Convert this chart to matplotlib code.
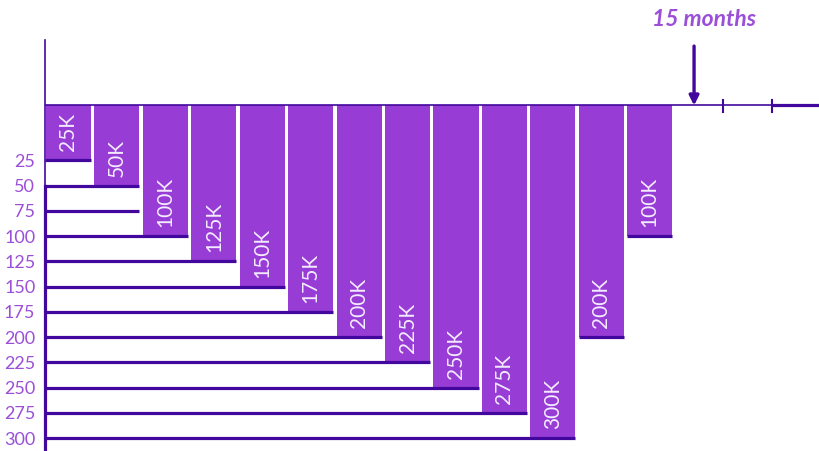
import matplotlib.pyplot as plt

# data
labels = ["25K", "50K", "100K", "125K", "150K", "175K", "200K",
          "225K", "250K", "275K", "300K", "200K", "100K"]
values = [25, 50, 100, 125, 150, 175, 200, 225, 250, 275, 300, 200, 100]
levels = [25, 50, 75, 100, 125, 150, 175, 200, 225, 250, 275, 300]
month_ticks = [14, 15]
arrow_month = 13.4
arrow_text = "15 months"

bar_color = "#983cd6"
line_color = "#42089e"
text_color = "#9b4ed8"

plt.rcParams["font.family"] = ["Lato", "DejaVu Sans"]

fig = plt.figure(figsize=(8.2, 4.51), dpi=100)
ax = fig.add_axes([45 / 820, 0, 775 / 820, 1])
ax.set_xlim(0, 16)
ax.set_ylim(312.7, -133.6)
for s in ax.spines.values():
    s.set_visible(False)

top = -29.2  # where the bars hang from
left_pad, width = 0.02, 0.93

# bars
xs = [i + left_pad for i in range(len(values))]
ax.bar(xs, [v - top for v in values], bottom=top, width=width,
       align="edge", color=bar_color, zorder=2)

# labels inside bars
for x, v, lab in zip(xs, values, labels):
    ax.annotate(lab, (x + width / 2, v), xytext=(0, 9), textcoords="offset pixels",
                rotation=90, ha="center", va="bottom", color="#f4ecff",
                fontsize=15, zorder=4)

# horizontal steps: each level runs to the last rising bar it covers
peak = values.index(max(values))
for lev in levels:
    last = max(i for i in range(peak + 1) if values[i] <= lev)
    ax.plot([0, xs[last] + width], [lev, lev], color=line_color, lw=2.3,
            solid_capstyle="butt", zorder=3, clip_on=False)
for i in range(peak + 1, len(values)):
    ax.plot([xs[i], xs[i] + width], [values[i], values[i]], color=line_color,
            lw=2.3, solid_capstyle="butt", zorder=3)

# y labels
ax.set_yticks(levels)
ax.set_yticklabels([str(l) for l in levels])
ax.tick_params(axis="y", length=0, pad=7, labelsize=13, labelcolor=text_color)
ax.set_xticks([])

# left axis: thin on top, thick below
ax.plot([0, 0], [-94, 50], color=line_color, lw=1.2, clip_on=False, zorder=3)
ax.plot([0, 0], [50, 312.7], color=line_color, lw=2.3, clip_on=False, zorder=3)

# top time axis
ax.plot([0, month_ticks[-1]], [top, top], color=line_color, lw=1.2, zorder=3)
ax.plot([month_ticks[-1], 16], [top, top], color=line_color, lw=2.3,
        solid_capstyle="butt", clip_on=False, zorder=3)
for m in month_ticks:
    ax.plot([m, m], [top - 5, top + 6], color=line_color, lw=1.5, zorder=3)

ax.annotate("", xy=(arrow_month, top), xytext=(arrow_month, -88),
            arrowprops=dict(arrowstyle="-|>", color=line_color, lw=2.4,
                            mutation_scale=14, shrinkA=0, shrinkB=0))
ax.text(arrow_month + 0.2, -114, arrow_text, ha="center", va="center",
        fontsize=16.5, fontweight="bold", fontstyle="italic", color=text_color)

fig.savefig("out.png", dpi=100)
